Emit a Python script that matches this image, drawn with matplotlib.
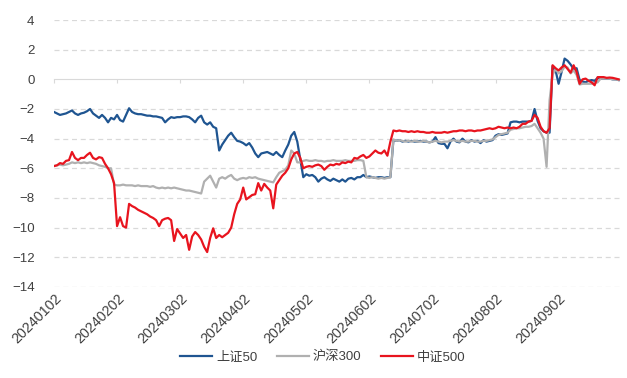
import matplotlib
matplotlib.use("Agg")
import matplotlib.pyplot as plt

plt.rcParams['font.family'] = ['Liberation Sans', 'Noto Sans CJK SC', 'DejaVu Sans']

TICK_LABELS = ["20240102", "20240202", "20240302", "20240402", "20240502",
               "20240602", "20240702", "20240802", "20240902"]
TICK_STEP = 21
SERIES_NAMES = ["上证50", "沪深300", "中证500"]

sz50 = [
    -2.2, -2.3, -2.4, -2.35, -2.3, -2.2, -2.1, -2.3, -2.4, -2.3,
    -2.25, -2.15, -2.0, -2.3, -2.45, -2.6, -2.4, -2.6, -2.9, -2.6,
    -2.7, -2.4, -2.75, -2.85, -2.4, -1.95, -2.2, -2.3, -2.35, -2.35,
    -2.4, -2.45, -2.45, -2.5, -2.5, -2.55, -2.6, -2.9, -2.7, -2.55,
    -2.6, -2.55, -2.55, -2.5, -2.5, -2.55, -2.7, -2.9, -2.6, -2.45,
    -2.9, -3.05, -2.9, -3.2, -3.3, -4.8, -4.4, -4.1, -3.8, -3.6,
    -3.9, -4.15, -4.2, -4.3, -4.45, -4.3, -4.6, -5.0, -5.25, -5.0,
    -4.95, -4.9, -5.0, -5.1, -4.9, -5.1, -5.25, -4.8, -4.4, -3.8,
    -3.55, -4.2, -5.4, -6.6, -6.4, -6.5, -6.45, -6.6, -6.9, -6.7,
    -6.6, -6.75, -6.85, -6.7, -6.8, -6.9, -6.75, -6.9, -6.7, -6.65,
    -6.75, -6.6, -6.6, -6.45, -6.6, -6.55, -6.6, -6.65, -6.6, -6.6,
    -6.65, -6.6, -6.6, -4.1, -4.15, -4.1, -4.2, -4.15, -4.2, -4.15,
    -4.2, -4.2, -4.15, -4.2, -4.2, -4.25, -4.2, -3.9, -4.3, -4.35,
    -4.35, -4.65, -4.2, -4.0, -4.2, -4.25, -4.0, -4.2, -4.25, -4.1,
    -4.2, -4.15, -4.3, -4.1, -4.2, -4.15, -4.1, -3.8, -3.7, -3.75,
    -3.7, -3.65, -2.9, -2.85, -2.85, -2.9, -2.85, -2.85, -2.85, -2.8,
    -2.0, -2.8, -3.3, -3.5, -3.6, -3.6, 0.9, 0.6, -0.3, 0.5,
    1.4, 1.25, 1.0, 0.7, 0.75, -0.05, -0.15, -0.2, -0.1, -0.05,
    -0.1, 0.1, 0.05, 0.05, 0.05, 0.05, 0.0, 0.0, -0.05,
]

hs300 = [
    -5.85, -5.8, -5.75, -5.8, -5.75, -5.7, -5.6, -5.65, -5.6, -5.65,
    -5.6, -5.65, -5.6, -5.65, -5.7, -5.8, -5.85, -5.9, -6.0, -6.0,
    -7.1, -7.15, -7.15, -7.1, -7.15, -7.15, -7.15, -7.2, -7.15, -7.2,
    -7.2, -7.2, -7.25, -7.2, -7.3, -7.35, -7.3, -7.35, -7.3, -7.35,
    -7.3, -7.35, -7.4, -7.45, -7.5, -7.5, -7.55, -7.6, -7.65, -7.7,
    -6.9, -6.7, -6.5, -6.9, -7.3, -6.7, -6.6, -6.7, -6.55, -6.45,
    -6.7, -6.8, -6.7, -6.65, -6.7, -6.6, -6.65, -6.6, -6.7, -6.75,
    -6.8, -6.85, -6.9, -6.95, -6.6, -6.3, -6.2, -6.1, -5.8, -4.8,
    -5.0, -5.6, -5.6, -5.5, -5.45, -5.5, -5.5, -5.45, -5.5, -5.5,
    -5.55, -5.5, -5.5, -5.45, -5.5, -5.5, -5.5, -5.45, -5.5, -5.5,
    -5.5, -5.45, -5.45, -5.5, -6.6, -6.65, -6.6, -6.65, -6.7, -6.65,
    -6.7, -6.65, -6.6, -4.05, -4.15, -4.1, -4.15, -4.2, -4.15, -4.2,
    -4.15, -4.2, -4.2, -4.15, -4.2, -4.25, -4.2, -4.15, -4.2, -4.25,
    -4.2, -4.2, -4.15, -4.1, -4.15, -4.2, -4.15, -4.2, -4.2, -4.15,
    -4.15, -4.2, -4.2, -4.15, -4.15, -4.1, -4.05, -3.9, -3.75, -3.7,
    -3.65, -3.6, -3.4, -3.35, -3.3, -3.3, -3.25, -3.2, -3.2, -3.15,
    -3.0, -3.3, -3.6, -4.0, -5.9, -1.4, 0.3, 0.7, 0.4, 0.55,
    0.85, 0.8, 0.4, 0.6, 0.3, -0.35, -0.3, -0.3, -0.3, -0.3,
    -0.25, -0.2, 0.05, 0.05, 0.05, 0.05, 0.0, 0.0, -0.05,
]

zz500 = [
    -5.85, -5.8, -5.65, -5.7, -5.5, -5.45, -4.9, -5.3, -5.45, -5.3,
    -5.3, -5.1, -4.95, -5.3, -5.4, -5.25, -5.3, -5.7, -6.0, -6.4,
    -7.0, -9.9, -9.3, -9.9, -10.0, -8.4, -8.55, -8.65, -8.8, -8.9,
    -9.0, -9.1, -9.25, -9.35, -9.5, -9.9, -9.5, -9.4, -9.35, -9.5,
    -10.9, -10.1, -10.4, -10.7, -10.5, -11.5, -10.6, -10.3, -10.5, -10.8,
    -11.3, -11.65, -10.7, -10.05, -10.7, -10.5, -10.65, -10.5, -10.35, -10.0,
    -9.1, -8.4, -8.1, -7.3, -8.1, -7.95, -7.8, -7.75, -7.0, -7.5,
    -7.05, -7.3, -7.5, -8.7, -7.1, -6.8, -6.5, -6.3, -6.0, -5.4,
    -5.0, -4.9, -5.3, -6.0, -5.9, -5.85, -5.9, -5.8, -5.75, -5.85,
    -6.1, -5.9, -5.75, -5.8, -5.7, -5.75, -5.6, -5.65, -5.55, -5.6,
    -5.3, -5.35, -5.2, -5.1, -5.3, -5.2, -5.0, -4.8, -4.95, -5.0,
    -4.8, -5.15, -4.2, -3.45, -3.5, -3.45, -3.5, -3.5, -3.55, -3.5,
    -3.55, -3.5, -3.55, -3.55, -3.6, -3.6, -3.55, -3.6, -3.6, -3.6,
    -3.55, -3.6, -3.55, -3.5, -3.5, -3.45, -3.45, -3.5, -3.45, -3.45,
    -3.5, -3.45, -3.45, -3.4, -3.35, -3.3, -3.35, -3.3, -3.2, -3.25,
    -3.3, -3.25, -3.3, -3.25, -3.3, -3.2, -3.0, -3.0, -2.85, -2.8,
    -2.4, -2.6, -3.2, -3.5, -3.6, -3.3, 0.95, 0.75, 0.6, 0.8,
    0.95, 0.7, 0.45, 0.95, 0.5, -0.3, 0.0, 0.05, -0.1, -0.2,
    -0.4, 0.15, 0.15, 0.15, 0.1, 0.12, 0.1, 0.05, 0.0,
]

COLORS = ["#1f5591", "#b0b0b0", "#e8141e"]

fig = plt.figure(figsize=(6.27, 3.78), dpi=100)
ax = fig.add_axes([0.0861, 0.241, 0.903, 0.706])

x = list(range(len(sz50)))
for vals, name, c in zip([sz50, hs300, zz500], SERIES_NAMES, COLORS):
    ax.plot(x, vals, color=c, lw=1.6, label=name)

ax.set_ylim(-14, 4)
ax.set_xlim(0, len(sz50) - 0.5)
ax.set_yticks(range(-14, 5, 2))
for yv in range(-14, 5, 2):
    if yv != 0:
        ax.axhline(yv, color="#d9d9d9", lw=0.9, ls=(0, (4, 3)), zorder=0)

for s in ["top", "right", "left"]:
    ax.spines[s].set_visible(False)
ax.spines["bottom"].set_position(("data", 0))
ax.spines["bottom"].set_color("#d9d9d9")
ax.spines["bottom"].set_zorder(0)

tick_pos = [i * TICK_STEP for i in range(len(TICK_LABELS))]
ax.set_xticks(tick_pos)
ax.set_xticklabels([])
ax.tick_params(axis="x", direction="out", length=3, color="#d9d9d9")
ax.tick_params(axis="y", length=0, pad=14, labelsize=9.5, labelcolor="#404040")

# date labels below the plot area
ax2 = ax.twiny()
ax2.set_xlim(ax.get_xlim())
ax2.xaxis.set_ticks_position("bottom")
ax2.xaxis.set_label_position("bottom")
for s in ax2.spines.values():
    s.set_visible(False)
ax2.set_xticks(tick_pos)
ax2.set_xticklabels(TICK_LABELS, rotation=45, ha="right", va="top",
                    rotation_mode="anchor", fontsize=10.3, color="#404040")
ax2.tick_params(axis="x", length=0, pad=3)

fig.legend(*ax.get_legend_handles_labels(), loc="center", ncol=3,
           bbox_to_anchor=(0.515, 0.055), frameon=False, fontsize=9.5,
           handlelength=2.4, columnspacing=1.5, handletextpad=0.3,
           labelcolor="#404040")

fig.savefig("out.png", dpi=100)
